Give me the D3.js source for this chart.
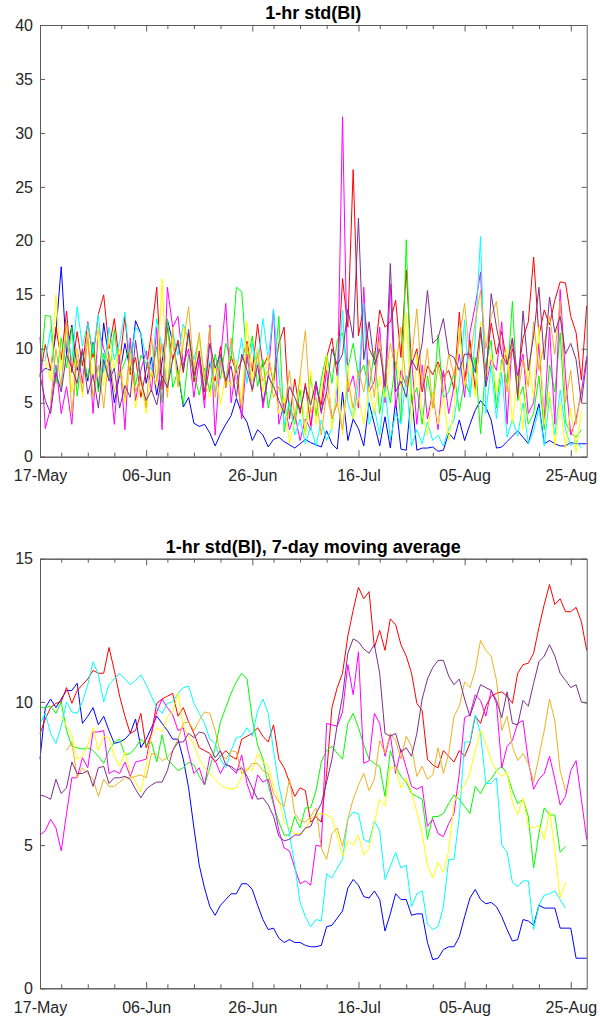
<!DOCTYPE html>
<html>
<head>
<meta charset="utf-8">
<script src="https://cdn.jsdelivr.net/npm/d3@7"></script>
<style>
  body { margin: 0; background: #fff; }
  svg { display: block; }
  text { font-family: Arial, "Liberation Sans", Helvetica, sans-serif; fill: #262626; }
</style>
</head>
<body>
<svg id="chart" width="600" height="1022"></svg>
<script>
// ---- data -------------------------------------------------------------
const startDate = "2019-05-17";   // day 0 of every series
const endDay = 103;                // last day shown on the x axis

const majorTickDates = ["2019-05-17", "2019-06-06", "2019-06-26", "2019-07-16", "2019-08-05", "2019-08-25"];
const minorTickDates = ["2019-05-21", "2019-05-26", "2019-05-31", "2019-06-10", "2019-06-15", "2019-06-20",
                        "2019-06-30", "2019-07-05", "2019-07-10", "2019-07-20", "2019-07-25", "2019-07-30",
                        "2019-08-09", "2019-08-14", "2019-08-19"];
const topYTicks = [0, 5, 10, 15, 20, 25, 30, 35, 40];
const bottomYTicks = [0, 5, 10, 15];

const seriesColors = ["#0000ff", "#ff0000", "#00ff00", "#ff00ff", "#00ffff", "#ffff00", "#edb120", "#7e2f8e"];

// daily 1-hr std(BI), one value per day (null = no data)
const stdBlue = [7.7,8.2,8.0,11.5,17.6,9.5,12.2,8.0,9.8,7.0,10.6,6.2,12.4,9.0,5.0,7.6,10.5,8.0,12.6,11.4,6.8,9.2,5.7,8.8,12.7,10.6,7.9,4.6,5.5,3.1,2.8,3.0,2.2,1.0,2.1,3.0,3.8,5.4,4.0,3.2,1.5,2.5,2.0,0.9,1.6,1.8,1.4,1.1,0.8,1.2,1.6,1.3,1.1,0.9,2.4,1.2,0.7,6.0,1.5,3.5,2.6,1.0,5.0,3.0,1.0,3.7,0.8,5.2,0.7,0.6,5.8,0.6,0.8,0.8,0.9,0.5,0.6,2.2,1.6,3.4,1.5,3.0,4.3,5.2,4.6,3.4,0.8,0.9,1.4,1.9,2.4,1.8,1.2,3.1,4.9,1.2,1.5,1.2,1.0,1.0,1.3,1.2,1.2,1.2];
const stdRed = [7.5,10.4,8.0,12.0,9.0,13.5,7.8,11.6,8.4,12.5,9.2,13.2,15.0,10.0,12.8,8.6,13.0,7.6,9.2,5.5,8.0,11.5,15.7,6.2,12.0,9.0,10.8,7.8,11.5,6.9,9.8,5.3,8.7,7.0,10.2,6.4,9.3,7.8,8.9,10.7,7.9,12.3,8.3,9.4,6.8,10.5,12.0,3.5,7.2,4.0,6.8,2.9,6.5,4.8,9.2,11.0,7.5,16.5,12.0,26.6,11.2,14.0,10.0,9.0,13.6,12.0,12.5,14.5,9.2,17.3,8.5,10.0,6.0,8.4,7.6,8.8,7.4,8.0,6.3,13.4,7.0,10.8,6.2,11.5,8.0,12.4,9.5,11.6,8.6,10.0,7.2,11.0,12.5,18.5,11.2,13.6,12.2,14.5,16.2,16.1,13.0,11.5,7.1,14.0];
const stdGreen = [7.4,13.1,13.0,6.8,11.0,8.2,12.0,5.6,9.8,7.3,10.5,6.0,9.6,7.2,11.8,7.5,8.8,10.5,6.6,9.4,8.6,7.4,10.2,5.0,12.8,6.4,8.0,4.8,9.5,7.8,5.7,8.2,6.0,9.5,7.2,10.5,9.0,15.7,15.3,8.6,11.2,6.5,9.0,4.5,7.0,13.0,2.3,5.0,3.0,6.2,2.0,7.5,3.8,7.2,9.5,6.8,10.8,11.5,8.2,10.5,7.4,8.5,6.2,9.8,4.0,7.6,5.0,8.8,3.2,20.1,5.2,6.4,3.0,7.5,4.5,11.3,5.4,6.0,7.8,4.2,7.0,5.8,9.2,2.1,8.5,10.8,4.5,9.0,6.8,14.4,5.2,6.5,3.0,4.0,7.5,2.5,8.5,6.0,11.5,3.2,2.2,1.8,2.5,null];
const stdMagenta = [11.1,2.6,4.5,8.5,4.0,6.5,3.0,10.0,6.8,11.5,4.0,12.0,10.0,8.5,3.0,9.5,2.5,11.0,5.2,8.0,9.8,6.0,12.0,2.5,15.7,12.0,13.0,8.5,10.0,5.5,9.0,4.5,12.2,2.0,9.0,14.2,5.0,8.5,3.5,9.5,6.0,10.0,4.5,7.5,13.6,3.0,5.0,2.5,4.0,1.5,3.5,2.5,6.8,4.0,8.0,3.5,5.0,31.5,6.0,7.5,4.5,15.7,6.0,7.0,12.0,5.0,16.0,4.5,8.0,6.5,9.0,3.0,8.5,3.5,6.0,2.5,8.0,4.0,6.5,9.5,5.5,11.5,14.0,17.1,6.5,9.0,8.0,12.5,3.0,11.0,7.5,9.5,4.0,5.0,10.5,3.5,12.0,3.0,15.5,7.5,2.0,3.5,6.0,9.3];
const stdCyan = [8.6,9.0,11.8,7.5,6.4,12.0,8.8,13.9,10.2,12.4,9.5,13.2,7.8,12.0,9.0,10.6,13.4,8.5,12.0,11.4,9.2,8.0,12.8,10.0,6.5,11.5,9.4,12.3,10.8,9.0,11.0,7.3,8.9,6.0,9.4,7.0,10.5,8.0,11.0,6.8,10.5,8.2,12.8,9.0,13.7,7.5,3.0,5.2,2.0,3.5,1.2,2.8,1.0,3.4,1.5,2.6,6.5,13.6,5.0,3.5,7.0,14.2,3.0,4.5,2.0,6.4,1.6,4.0,3.0,7.5,1.0,2.5,1.2,3.2,1.5,2.0,1.0,2.6,3.4,6.8,12.7,5.5,11.0,20.4,4.0,8.5,3.5,7.8,1.8,3.5,1.9,5.0,1.2,2.4,4.5,1.0,5.5,2.0,6.2,2.5,1.0,1.5,0.8,null];
const stdYellow = [null,9.0,7.0,15.0,8.0,12.0,6.0,10.0,5.5,11.5,7.0,12.0,6.5,11.0,8.0,10.0,5.0,9.0,4.5,7.0,4.0,8.0,6.5,16.5,6.0,11.0,6.4,12.0,10.5,8.0,11.0,7.0,5.5,8.5,4.8,7.5,6.5,9.0,5.0,12.5,7.0,10.0,6.0,9.5,7.0,4.0,5.5,1.2,3.5,7.5,2.0,8.0,3.0,6.0,9.5,2.5,7.5,2.0,8.5,3.5,5.5,3.0,6.5,4.0,7.5,5.5,9.0,10.0,6.5,13.3,3.0,9.5,4.0,2.0,6.0,3.0,5.5,1.5,4.5,12.0,6.5,9.0,5.5,12.5,7.0,9.5,6.0,8.5,10.0,3.0,7.5,2.5,9.0,5.5,12.0,3.0,6.0,1.0,5.0,0.8,4.5,0.4,4.2,null];
const stdOrange = [null,null,5.0,10.0,6.5,12.5,4.0,9.0,6.0,11.0,5.5,8.5,4.5,9.5,6.0,8.0,5.5,10.0,6.0,7.5,4.5,11.0,7.0,10.5,5.5,12.0,6.5,10.5,13.9,8.0,11.5,7.0,12.0,5.5,9.0,6.5,11.0,7.0,4.5,10.5,6.0,9.5,7.0,8.0,5.5,6.5,4.0,8.0,3.5,7.5,11.7,4.0,5.5,2.0,6.0,3.5,5.0,2.5,7.0,4.5,8.0,6.0,9.0,5.5,11.0,7.0,10.5,8.0,12.0,6.5,9.0,13.7,6.5,10.0,4.5,8.5,6.0,9.5,7.5,11.0,14.2,9.0,12.5,15.4,10.0,13.0,14.4,9.5,6.0,11.0,5.5,9.0,6.5,12.5,8.0,10.5,13.0,9.5,14.4,5.0,8.0,3.0,6.5,null];
const stdPurple = [7.5,5.2,4.0,7.8,6.0,9.5,8.2,6.8,10.0,5.8,7.6,4.5,9.0,7.0,8.2,4.5,6.6,5.5,10.8,7.0,5.2,6.2,4.8,7.5,6.4,9.0,10.5,8.0,11.8,7.5,9.6,6.0,10.5,8.2,9.5,7.0,8.4,5.5,9.5,8.0,6.2,8.5,5.0,7.5,6.5,5.2,4.0,6.5,5.5,4.2,6.5,4.8,7.0,4.2,6.0,10.0,8.5,9.5,13.7,11.0,22.1,9.0,12.5,8.5,10.0,6.5,17.9,6.0,7.0,5.5,9.0,8.0,10.5,15.4,10.5,11.0,12.8,9.5,9.2,8.0,9.5,9.5,7.8,12.0,6.5,15.1,12.0,9.5,8.5,11.0,5.5,13.5,8.0,11.2,15.7,9.0,14.8,11.5,13.0,9.5,10.5,9.0,5.0,9.0];

// 7-day moving average of the same quantity
const avgBlue = [8.0,9.8,10.1,9.8,10.1,10.4,10.4,10.65,9.25,9.5,9.8,9.2,9.5,9.0,8.55,8.6,8.7,8.9,9.4,8.4,8.7,9.1,9.5,9.25,9.0,8.7,8.7,8.0,7.0,5.6,4.3,3.5,2.85,2.55,2.9,3.1,3.3,3.3,3.65,3.65,3.45,2.9,2.4,2.05,2.1,1.75,1.6,1.7,1.6,1.6,1.5,1.45,1.45,1.5,2.15,2.2,2.45,2.7,3.5,3.8,3.6,3.2,3.15,3.4,3.1,2.0,2.6,3.3,3.1,3.1,2.55,2.6,2.6,1.6,1.0,1.05,1.35,1.45,1.45,1.8,2.5,3.15,3.45,3.1,2.95,3.0,2.85,2.5,2.05,1.65,1.7,2.4,2.35,2.2,2.9,2.8,2.8,2.8,2.1,2.1,2.1,1.05,1.05,1.05];
const avgRed = [8.9,9.4,9.8,9.95,10.0,10.5,9.95,10.4,10.6,10.8,11.1,11.0,11.0,11.9,11.1,10.2,9.5,8.9,9.0,9.6,8.4,8.9,9.95,10.1,10.2,10.3,9.5,9.8,9.3,8.9,8.4,8.3,8.2,7.9,8.1,8.3,8.1,8.0,8.7,8.8,8.9,9.1,8.8,8.6,9.2,8.0,7.7,7.2,6.7,7.0,6.9,5.8,6.0,5.8,7.5,9.8,10.5,11.0,12.3,13.2,14.0,13.6,13.85,11.9,12.5,11.8,12.9,12.7,12.0,11.6,11.0,9.95,9.7,8.0,7.8,7.7,8.3,8.1,7.9,8.3,8.1,8.55,9.5,9.25,9.85,10.2,10.3,10.35,10.2,9.95,11.0,11.3,11.35,11.7,12.6,13.4,14.1,13.4,13.6,13.15,13.15,13.3,12.8,11.8];
const avgGreen = [9.8,9.8,9.85,9.6,10.0,9.0,8.45,8.4,8.35,8.4,8.3,8.1,7.85,8.3,8.6,8.7,8.15,8.2,8.4,8.7,8.5,8.6,7.9,8.85,8.0,7.8,7.6,7.7,7.9,7.8,7.4,7.1,7.7,8.4,9.3,9.8,10.3,10.7,11.0,10.8,9.4,8.5,8.0,7.1,6.4,5.8,5.35,5.35,6.0,5.6,6.3,6.3,6.9,7.9,8.3,8.45,8.2,8.0,9.25,9.6,9.1,8.5,8.0,7.85,7.75,6.7,8.3,7.75,7.4,7.2,6.8,6.7,6.6,5.2,6.0,6.0,6.1,6.45,6.75,6.6,6.35,6.1,7.05,6.8,7.15,7.3,7.6,7.75,7.5,6.9,6.45,6.6,6.0,4.2,5.4,6.3,6.05,6.05,4.75,4.95,null,null,null,null];
const avgMagenta = [5.35,5.5,5.9,5.6,4.8,6.1,7.35,7.35,8.05,7.7,8.95,8.95,9.0,7.5,7.6,7.5,7.9,7.4,7.9,7.95,8.0,8.9,9.65,10.1,9.8,9.55,9.0,9.1,8.2,7.5,7.7,7.1,8.1,7.95,7.5,7.85,7.7,7.5,8.15,7.15,6.6,7.45,7.2,7.3,6.5,5.5,4.9,4.8,4.2,3.65,3.75,3.6,5.0,4.95,9.25,9.2,9.15,9.65,11.3,10.25,11.75,7.85,7.95,9.6,9.25,8.1,8.85,7.5,8.35,7.7,7.05,6.95,7.05,5.65,5.9,5.4,5.3,5.75,6.1,7.5,9.45,9.55,10.25,10.05,9.5,10.4,9.95,7.7,8.45,8.65,9.25,9.35,7.95,6.95,7.3,7.5,8.1,7.3,6.4,6.7,7.6,7.95,6.6,5.2];
const avgCyan = [9.25,9.6,8.9,8.55,9.15,10.0,9.65,9.6,10.0,10.6,11.4,10.95,10.0,10.6,10.8,11.0,10.8,10.6,10.75,10.95,10.6,10.2,9.8,9.6,9.95,10.0,10.3,10.5,10.55,9.95,9.6,9.25,8.7,8.55,8.0,7.7,8.3,8.75,8.8,9.1,8.8,9.7,10.1,9.6,8.3,7.1,6.2,5.4,4.3,3.0,2.5,2.15,2.4,2.35,4.0,3.85,4.2,4.5,5.9,6.15,6.1,5.2,5.1,5.85,5.5,3.8,4.25,4.75,4.2,4.3,2.85,3.3,3.4,2.25,2.05,2.15,2.85,4.5,4.5,6.0,8.6,8.6,9.55,8.9,7.15,7.15,7.35,5.0,4.75,3.7,3.55,3.75,3.75,2.05,2.9,3.25,3.3,3.4,3.1,2.8,null,null,null,null];
const avgYellow = [null,null,null,null,9.5,9.15,8.85,8.0,8.1,8.5,9.1,8.3,8.8,8.75,8.1,7.75,8.25,7.5,7.2,6.85,7.75,8.8,9.1,8.95,9.5,9.65,10.3,9.15,8.8,8.5,8.0,7.7,7.5,7.3,7.1,7.0,6.95,7.0,7.4,7.7,7.6,8.2,7.9,7.75,7.05,6.6,5.8,5.6,5.4,5.4,5.55,5.9,6.1,6.1,6.05,5.95,5.3,4.6,5.15,5.0,5.35,4.65,4.9,5.8,6.6,6.35,7.7,7.7,7.0,7.35,6.85,6.15,5.4,4.3,3.85,4.4,4.05,4.8,6.5,6.85,7.1,7.5,8.3,9.0,8.55,7.95,7.6,7.4,7.55,6.5,6.05,6.65,5.65,5.6,5.7,5.2,6.2,4.85,3.15,3.7,null,null,null,null];
const avgOrange = [null,null,null,null,null,8.3,8.6,7.35,7.7,7.5,7.3,6.7,7.3,7.05,7.05,7.2,7.35,7.35,7.4,7.45,7.35,8.2,8.15,7.95,8.05,8.3,8.7,9.25,9.3,9.0,9.35,9.65,9.6,9.0,8.2,8.0,8.3,8.25,7.5,7.6,7.85,7.85,7.6,7.5,6.8,6.5,6.35,7.3,6.1,5.85,5.8,6.0,6.3,4.9,4.5,5.4,5.6,4.95,5.9,6.6,7.1,7.5,6.9,7.3,8.65,8.2,8.9,8.65,8.0,8.8,8.45,7.4,7.75,7.3,7.45,8.4,7.5,8.2,9.5,9.85,10.7,10.5,11.1,12.15,11.8,11.6,10.75,9.0,9.5,8.45,7.95,8.2,7.85,7.2,8.1,9.0,10.1,9.35,7.6,6.9,null,null,null,null];
const avgPurple = [6.75,6.7,6.6,7.3,6.8,7.0,7.9,7.5,7.5,7.6,7.05,7.7,7.75,7.15,7.35,7.35,7.4,7.3,6.95,6.65,6.95,7.1,7.2,7.2,7.6,8.3,8.6,8.6,8.9,8.75,8.95,8.9,8.45,8.05,8.3,7.8,7.75,7.6,7.7,7.4,7.0,6.6,6.65,6.4,6.0,5.3,5.15,5.2,5.35,5.35,5.6,5.65,6.1,6.45,7.2,8.0,9.2,10.2,11.7,12.2,12.1,11.85,11.7,12.0,11.0,8.9,8.8,8.9,8.25,8.4,8.1,8.9,10.1,10.8,11.2,11.45,11.45,10.9,10.6,10.8,10.1,9.5,10.05,10.6,10.5,10.4,10.05,9.45,10.35,9.25,9.2,10.05,9.85,10.65,11.4,11.6,12.0,11.6,11.0,10.75,10.5,10.6,10.0,9.95];

const topSeries = [stdBlue, stdRed, stdGreen, stdMagenta, stdCyan, stdYellow, stdOrange, stdPurple];
const bottomSeries = [avgBlue, avgRed, avgGreen, avgMagenta, avgCyan, avgYellow, avgOrange, avgPurple];

// ---- drawing ----------------------------------------------------------
const svg = d3.select("#chart");
const parse = d3.utcParse("%Y-%m-%d");
const day0 = parse(startDate);
const dayToDate = i => d3.utcDay.offset(day0, i);
const fmt = d3.utcFormat("%d-%b");

const left = 40, right = 586.7;
const x = d3.scaleUtc().domain([day0, dayToDate(endDay)]).range([left, right]);

const axisColor = "#5a5a5a";

function panel(opts) {
  const { top, bottom, yMax, yTicks, series, title, titleY } = opts;
  const y = d3.scaleLinear().domain([0, yMax]).range([bottom, top]);
  const g = svg.append("g");

  // data lines
  const line = d3.line()
    .defined(d => d.v !== null && d.v !== undefined)
    .x(d => x(d.date))
    .y(d => y(d.v));
  series.forEach((vals, k) => {
    const pts = vals.map((v, i) => ({ date: dayToDate(i), v }));
    g.append("path")
      .datum(pts)
      .attr("fill", "none")
      .attr("stroke", seriesColors[k])
      .attr("stroke-width", 1)
      .attr("stroke-linejoin", "round")
      .attr("d", line);
  });

  // axes: bottom/left labelled, top/right mirrored, ticks pointing inward
  const majors = majorTickDates.map(parse);
  const minors = minorTickDates.map(parse);
  const xBottom = d3.axisBottom(x).tickValues(majors).tickFormat(fmt).tickSizeInner(-6.5).tickSizeOuter(0).tickPadding(13);
  const xTop = d3.axisTop(x).tickValues(majors).tickFormat("").tickSizeInner(-6.5).tickSizeOuter(0);
  const xBottomMinor = d3.axisBottom(x).tickValues(minors).tickFormat("").tickSizeInner(-4).tickSizeOuter(0);
  const xTopMinor = d3.axisTop(x).tickValues(minors).tickFormat("").tickSizeInner(-4).tickSizeOuter(0);
  const yLeft = d3.axisLeft(y).tickValues(yTicks).tickFormat(d3.format("d")).tickSizeInner(-5).tickSizeOuter(0).tickPadding(7);
  const yRight = d3.axisRight(y).tickValues(yTicks).tickFormat("").tickSizeInner(-5).tickSizeOuter(0);

  const axes = [
    [xBottom, `translate(0,${bottom})`],
    [xBottomMinor, `translate(0,${bottom})`],
    [xTop, `translate(0,${top})`],
    [xTopMinor, `translate(0,${top})`],
    [yLeft, `translate(${left},0)`],
    [yRight, `translate(${right},0)`]
  ];
  axes.forEach(([ax, tr]) => {
    const a = g.append("g").attr("transform", tr).call(ax);
    a.selectAll(".domain").attr("stroke", axisColor).attr("stroke-width", 1);
    a.selectAll(".tick line").attr("stroke", axisColor).attr("stroke-width", 1);
    a.selectAll(".tick text")
      .attr("fill", "#262626")
      .style("font-size", "16px")
      .style("font-family", "Arial, 'Liberation Sans', Helvetica, sans-serif");
  });

  g.append("text")
    .attr("x", (left + right) / 2)
    .attr("y", titleY)
    .attr("text-anchor", "middle")
    .style("font-size", "18px")
    .style("font-weight", "bold")
    .style("fill", "#000")
    .text(title);
}

panel({ top: 25, bottom: 456.7, yMax: 40, yTicks: topYTicks, series: topSeries,
        title: "1-hr std(BI)", titleY: 18.5 });
panel({ top: 558.7, bottom: 988.3, yMax: 15, yTicks: bottomYTicks, series: bottomSeries,
        title: "1-hr std(BI), 7-day moving average", titleY: 553 });
</script>
</body>
</html>
